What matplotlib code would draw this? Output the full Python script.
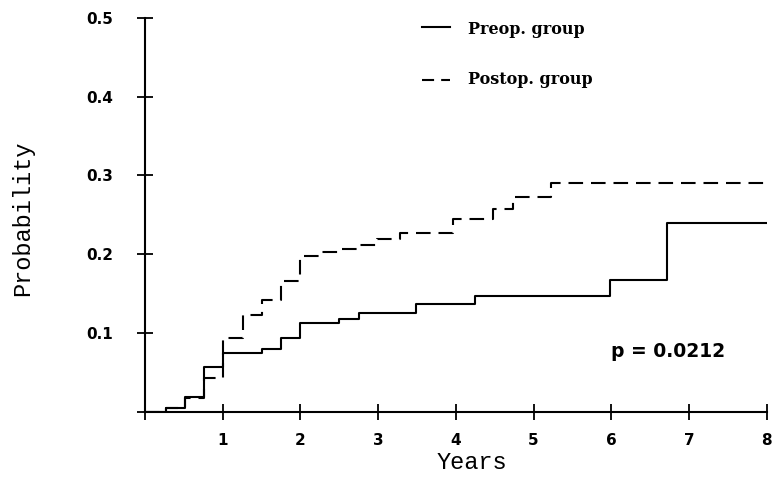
import numpy as np
import matplotlib.pyplot as plt

# Step curves (years, cumulative probability)
preop_t = [0, 0.27, 0.51, 0.76, 1.0, 1.5, 1.75, 2.0, 2.5, 2.75, 3.49, 4.24, 5.98, 6.72, 8.0]
preop_p = [0, 0.004, 0.019, 0.057, 0.074, 0.080, 0.094, 0.112, 0.118, 0.125, 0.136, 0.147, 0.167, 0.239, 0.239]

postop_t = [0, 0.27, 0.51, 0.76, 1.0, 1.26, 1.5, 1.75, 2.0, 2.25, 2.5, 2.75, 2.98, 3.28, 3.96, 4.48, 4.73, 5.23, 8.0]
postop_p = [0, 0.004, 0.017, 0.043, 0.094, 0.123, 0.142, 0.166, 0.197, 0.203, 0.207, 0.211, 0.219, 0.227, 0.245, 0.257, 0.272, 0.290, 0.290]

xticks = [0, 1, 2, 3, 4, 5, 6, 7, 8]
xlabels = ['', '1', '2', '3', '4', '5', '6', '7', '8']
yticks = [0, 0.1, 0.2, 0.3, 0.4, 0.5]
ylabels = ['', '0.1', '0.2', '0.3', '0.4', '0.5']

fig = plt.figure(figsize=(7.8, 4.87), dpi=100)
ax = fig.add_axes([0.186, 0.155, 0.797, 0.808])

ax.step(preop_t, preop_p, where='post', color='black', lw=1.5)
ax.step(postop_t, postop_p, where='post', color='black', lw=1.5, dashes=(7, 3.8))

ax.set_xlim(0, 8)
ax.set_ylim(0, 0.5)
for s in ['top', 'right']:
    ax.spines[s].set_visible(False)
for s in ['left', 'bottom']:
    ax.spines[s].set_linewidth(1.5)

ax.set_xticks(xticks)
ax.set_xticklabels(xlabels, fontfamily='DejaVu Sans', fontweight='bold', fontsize=11)
ax.set_yticks(yticks)
ax.set_yticklabels(ylabels, fontfamily='DejaVu Sans', fontweight='bold', fontsize=11)
ax.tick_params(axis='x', direction='inout', length=11.5, width=1.3, pad=10)
ax.tick_params(axis='y', direction='inout', length=11.5, width=1.3, pad=17)

ax.set_xlabel('Years', fontfamily='Liberation Mono', fontsize=17)
ax.xaxis.set_label_coords(0.526, -0.1)
ax.set_ylabel('Probability', fontfamily='Liberation Mono', fontsize=17)
ax.yaxis.set_label_coords(-0.179, 0.49)

# legend drawn by hand, as in the original
ax.plot([3.57, 3.92], [0.4885, 0.4885], color='black', lw=1.5, clip_on=False)
ax.plot([3.57, 3.92], [0.421, 0.421], color='black', lw=1.5, dashes=(5.8, 3.4), clip_on=False)
ax.text(4.15, 0.4796, 'Preop. group', fontfamily='DejaVu Serif', fontweight='bold',
        fontsize=11.5, va='baseline')
ax.text(4.15, 0.4158, 'Postop. group', fontfamily='DejaVu Serif', fontweight='bold',
        fontsize=11.5, va='baseline')

ax.text(6.0, 0.0687, 'p = 0.0212', fontfamily='DejaVu Sans', fontweight='bold',
        fontsize=13.5, va='baseline')

fig.savefig('out.png', dpi=100)
